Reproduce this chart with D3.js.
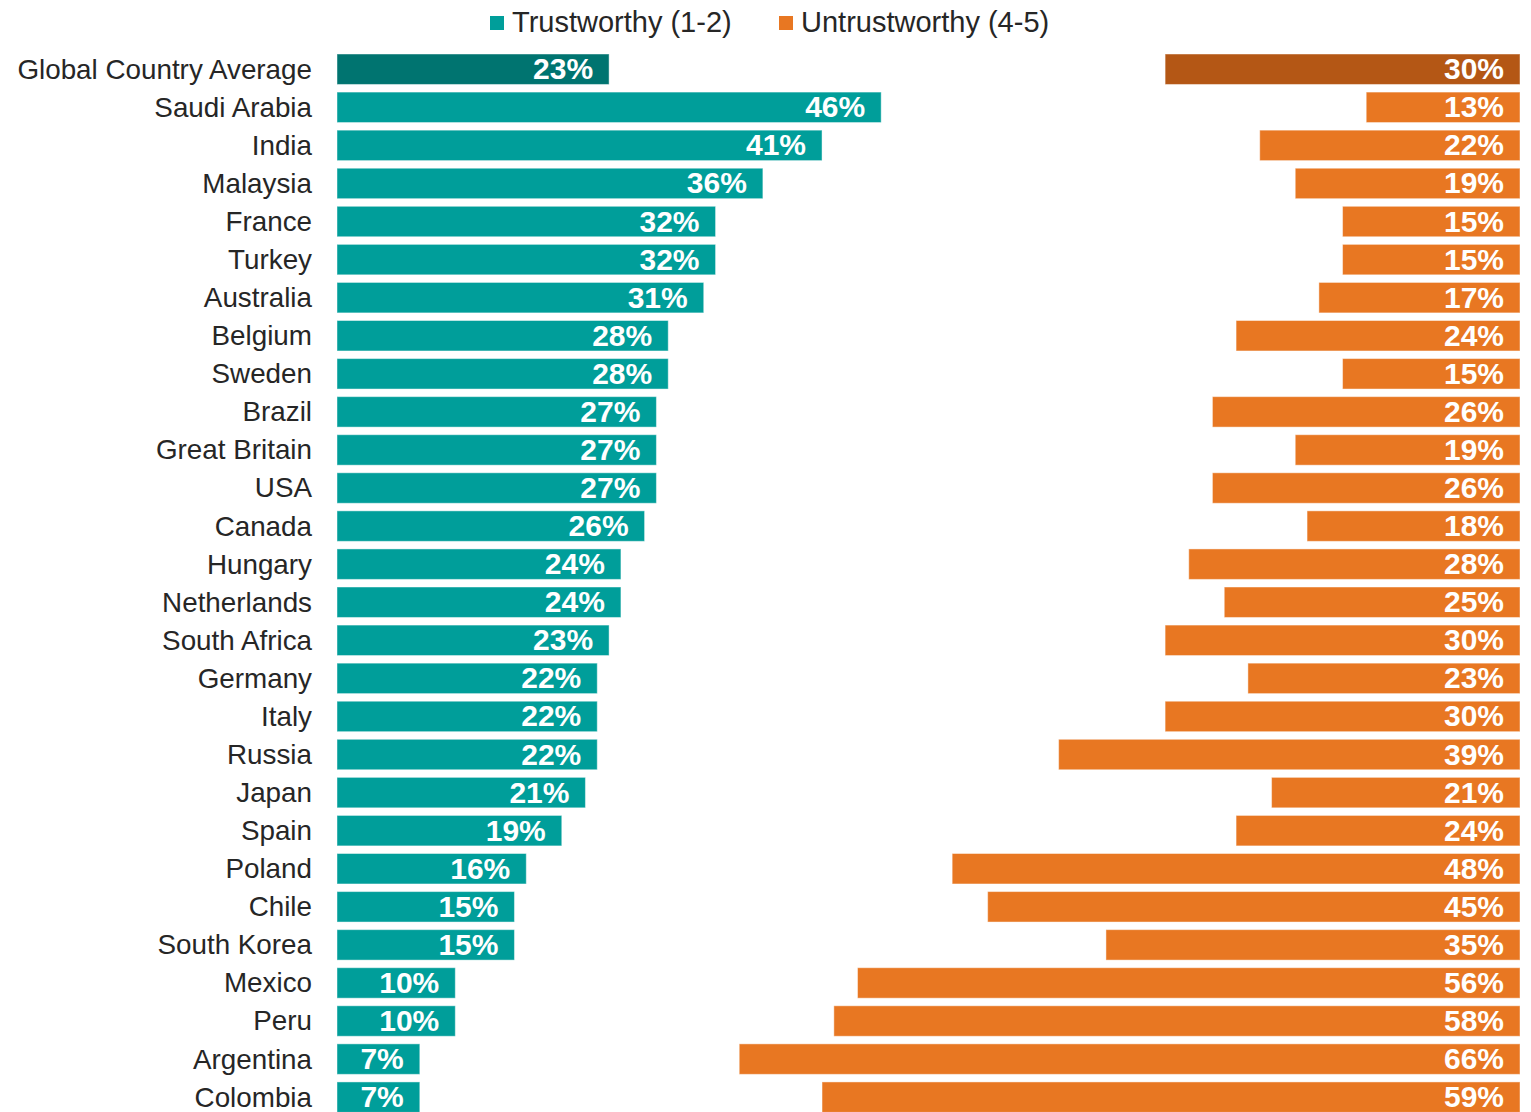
<!DOCTYPE html>
<html>
<head>
<meta charset="utf-8">
<script src="https://cdn.jsdelivr.net/npm/d3@7/dist/d3.min.js"></script>
<style>
  html, body { margin: 0; padding: 0; background: #ffffff; }
  svg { display: block; font-family: "Liberation Sans", Arial, sans-serif; }
</style>
</head>
<body>
<svg id="chart" width="1531" height="1112"></svg>
<script>
// Countries, top row is the global average
const countries = ["Global Country Average", "Saudi Arabia", "India", "Malaysia", "France", "Turkey",
  "Australia", "Belgium", "Sweden", "Brazil", "Great Britain", "USA", "Canada", "Hungary",
  "Netherlands", "South Africa", "Germany", "Italy", "Russia", "Japan", "Spain", "Poland",
  "Chile", "South Korea", "Mexico", "Peru", "Argentina", "Colombia"];

// Share rating as trustworthy (1-2), percent
const trustworthy = [23, 46, 41, 36, 32, 32, 31, 28, 28, 27, 27, 27, 26, 24, 24, 23, 22, 22, 22, 21, 19, 16, 15, 15, 10, 10, 7, 7];

// Share rating as untrustworthy (4-5), percent
const untrustworthy = [30, 13, 22, 19, 15, 15, 17, 24, 15, 26, 19, 26, 18, 28, 25, 30, 23, 30, 39, 21, 24, 48, 45, 35, 56, 58, 66, 59];

const seriesNames = ["Trustworthy (1-2)", "Untrustworthy (4-5)"];

const colors = {
  trust: "#009e9a", trustAvg: "#007470",
  untrust: "#e87722", untrustAvg: "#b45715",
  label: "#262626"
};

const svg = d3.select("#chart");

// Both series share one 0-100% axis: trustworthy grows from the left, untrustworthy from the right
const x = d3.scaleLinear().domain([0, 100]).range([337, 1520]);
const y = d3.scaleBand().domain(countries).range([50.2, 1116.2]).paddingInner(0.2).paddingOuter(0.1);

const rows = countries.map((c, i) => ({ c, i, t: trustworthy[i], u: untrustworthy[i] }));

const g = svg.append("g");

// Trustworthy bars
g.selectAll("rect.trust").data(rows).join("rect")
  .attr("class", "trust")
  .attr("x", x(0))
  .attr("y", d => y(d.c))
  .attr("width", d => x(d.t) - x(0))
  .attr("height", y.bandwidth())
  .attr("fill", d => d.i === 0 ? colors.trustAvg : colors.trust)
  .attr("stroke", "rgba(255,255,255,0.45)")
  .attr("stroke-width", 1);

// Untrustworthy bars
g.selectAll("rect.untrust").data(rows).join("rect")
  .attr("class", "untrust")
  .attr("x", d => x(100 - d.u))
  .attr("y", d => y(d.c))
  .attr("width", d => x(100) - x(100 - d.u))
  .attr("height", y.bandwidth())
  .attr("fill", d => d.i === 0 ? colors.untrustAvg : colors.untrust)
  .attr("stroke", "rgba(255,255,255,0.45)")
  .attr("stroke-width", 1);

// Value labels inside the bar ends
const labelFont = { size: 30, weight: "bold" };
g.selectAll("text.tval").data(rows).join("text")
  .attr("class", "tval")
  .attr("x", d => x(d.t) - 16)
  .attr("y", d => y(d.c) + y.bandwidth() / 2 + 10)
  .attr("text-anchor", "end")
  .attr("fill", "#ffffff")
  .attr("font-size", labelFont.size)
  .attr("font-weight", labelFont.weight)
  .text(d => d.t + "%");

g.selectAll("text.uval").data(rows).join("text")
  .attr("class", "uval")
  .attr("x", x(100) - 16)
  .attr("y", d => y(d.c) + y.bandwidth() / 2 + 10)
  .attr("text-anchor", "end")
  .attr("fill", "#ffffff")
  .attr("font-size", labelFont.size)
  .attr("font-weight", labelFont.weight)
  .text(d => d.u + "%");

// Category axis on the left, no line or ticks
const yAxis = svg.append("g")
  .attr("transform", `translate(${x(0)},0)`)
  .call(d3.axisLeft(y).tickSize(0).tickPadding(25));
yAxis.select(".domain").remove();
yAxis.selectAll("text")
  .attr("font-size", 27.8)
  .attr("font-family", "'Liberation Sans', Arial, sans-serif")
  .attr("fill", colors.label)
  .attr("dy", "0.34em");

// Legend
const legendItems = [
  { name: seriesNames[0], color: colors.trust, x: 490 },
  { name: seriesNames[1], color: colors.untrust, x: 779 }
];
const legend = svg.append("g");
legendItems.forEach(it => {
  legend.append("rect")
    .attr("x", it.x).attr("y", 16).attr("width", 14).attr("height", 14)
    .attr("fill", it.color);
  legend.append("text")
    .attr("x", it.x + 22).attr("y", 32)
    .attr("font-size", 29)
    .attr("fill", colors.label)
    .text(it.name);
});
</script>
</body>
</html>
